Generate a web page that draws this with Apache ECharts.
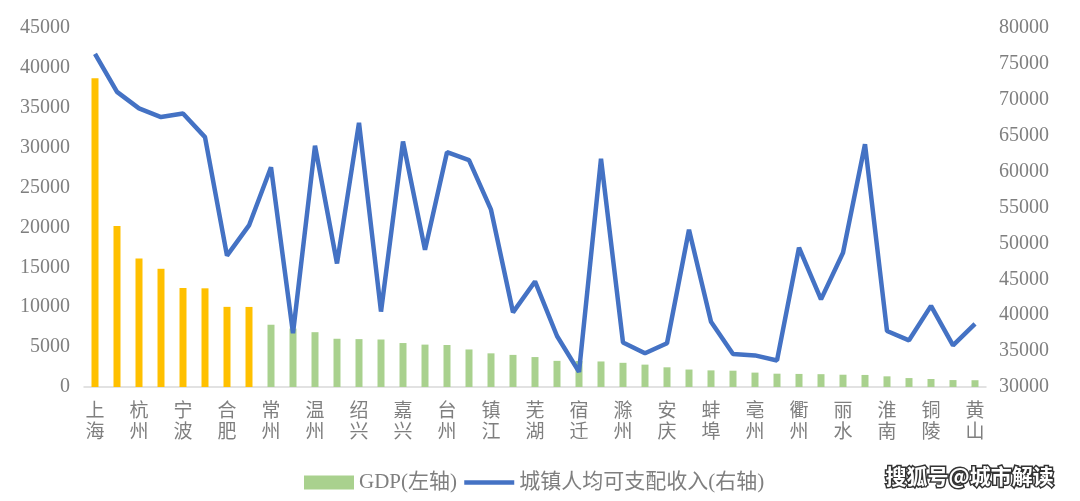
<!DOCTYPE html>
<html>
<head>
<meta charset="utf-8">
<script src="https://cdn.jsdelivr.net/npm/echarts@6/dist/echarts.min.js"></script>
<style>
html,body{margin:0;padding:0;background:#fff;}
#chart{width:1080px;height:501px;}
</style>
</head>
<body>
<div id="chart"></div>
<script>
// Cities (41), sorted by GDP
const cities = ['上海','苏州','杭州','南京','宁波','无锡','合肥','南通','常州','徐州',
  '温州','扬州','绍兴','盐城','嘉兴','泰州','台州','金华','镇江','淮安',
  '芜湖','连云港','宿迁','湖州','滁州','阜阳','安庆','马鞍山','蚌埠','宿州',
  '亳州','六安','衢州','宣城','丽水','舟山','淮南','淮北','铜陵','池州','黄山'];
// GDP (亿元), left axis
const gdp = [38700,20170,16106,14818,12409,12370,10046,10036,7805,7320,
  6871,6048,6001,5953,5510,5313,5263,4704,4220,4025,
  3753,3277,3262,3201,3032,2805,2468,2187,2083,2045,
  1805,1669,1639,1607,1540,1512,1337,1119,1004,869,850];
// Urban per-capita disposable income (元), right axis
const income = [76400,71100,68800,67600,68100,64800,48300,52500,60600,37500,
  63600,47200,66800,40500,64200,49100,62700,61600,54700,40400,
  44700,37100,32100,61800,36200,34700,36100,51900,39100,34600,
  34400,33700,49400,42200,48700,63800,37800,36500,41300,35800,38800];
const leftTicks = {min:0, max:45000, interval:5000};
const rightTicks = {min:30000, max:80000, interval:5000};
const highlightCount = 8; // cities with GDP above 10000 shown in yellow

const YELLOW = '#FFC000', GREEN = '#A9D18E', BLUE = '#4472C4';
const FONT = "'Liberation Serif', 'Noto Sans CJK SC', serif";
const GREY = '#7f7f7f';

const chart = echarts.init(document.getElementById('chart'), null, {renderer:'canvas'});
const gdpData = gdp.map((v,i) => i < highlightCount ? {value:v, itemStyle:{color:YELLOW}} : v);

chart.setOption({
  backgroundColor:'#fff',
  animation:false,
  grid:{left:84, right:94, top:28, bottom:114},
  legend:{
    left:299, top:467,
    itemWidth:50, itemHeight:14, itemGap:5,
    textStyle:{fontFamily:FONT, fontSize:21, color:GREY},
    data:[
      {name:'GDP(左轴)', icon:'rect'},
      {name:'城镇人均可支配收入(右轴)', itemStyle:{opacity:0}, lineStyle:{width:4.5, color:BLUE}}
    ]
  },
  xAxis:{
    type:'category',
    data:cities,
    axisLine:{lineStyle:{color:'#d9d9d9', width:1.5}},
    axisTick:{show:false},
    axisLabel:{
      interval:1, margin:15,
      fontFamily:FONT, fontSize:19, color:GREY, lineHeight:21,
      formatter: v => v.split('').slice(0,2).join('\n')
    }
  },
  yAxis:[
    {type:'value', min:leftTicks.min, max:leftTicks.max, interval:leftTicks.interval,
     axisLine:{show:false}, axisTick:{show:false}, splitLine:{show:false},
     axisLabel:{margin:14, fontFamily:FONT, fontSize:20, color:GREY, formatter: v => String(v)}},
    {type:'value', min:rightTicks.min, max:rightTicks.max, interval:rightTicks.interval,
     axisLine:{show:false}, axisTick:{show:false}, splitLine:{show:false},
     axisLabel:{margin:13, fontFamily:FONT, fontSize:20, color:GREY, formatter: v => String(v)}}
  ],
  series:[
    {name:'GDP(左轴)', type:'bar', yAxisIndex:0, data:gdpData,
     barWidth:7, itemStyle:{color:GREEN}},
    {name:'城镇人均可支配收入(右轴)', type:'line', yAxisIndex:1, data:income,
     symbol:'none', lineStyle:{color:BLUE, width:4.5}, itemStyle:{color:BLUE}}
  ],
  graphic:[{
    type:'text', left:884, top:464,
    style:{text:'搜狐号@城市解读', fill:'#fff', stroke:'#333', lineWidth:3,
      font:"bold 21px 'Noto Sans CJK SC'"}
  }]
});
</script>
</body>
</html>
